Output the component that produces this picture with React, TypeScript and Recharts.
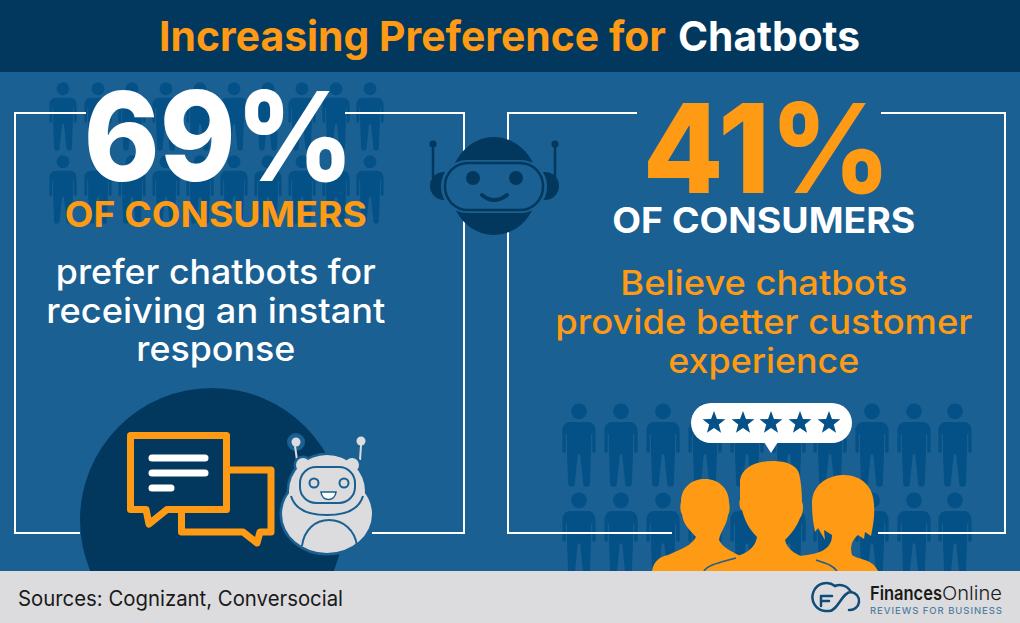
import { BarChart, Bar, XAxis, YAxis, LabelList } from 'recharts'

const panels = ['consumers-instant', 'consumers-experience']
const shares = [69, 41]
const headings = ['OF CONSUMERS', 'OF CONSUMERS']
const leftLines = ['prefer chatbots for', 'receiving an instant', 'response']
const rightLines = ['Believe chatbots', 'provide better customer', 'experience']
const descriptions = [leftLines, rightLines]

const rows = panels.map((panel, i) => ({ panel, share: shares[i] }))

const NAVY = '#03385e'
const BLUE = '#1a6092'
const SHADE = '#045187'
const ORANGE = '#ff9a14'
const GREY = '#dcdcde'
const FONT = 'Inter, "Open Sans", sans-serif'

const look = [
  {
    valueFill: '#ffffff', valueY: 181, valueW: 270, valueDx: 3, headFill: ORANGE, headY: 227, headW: 302,
    lineFill: '#ffffff', lineY: [284, 323, 361], lineW: [320, 339, 159],
  },
  {
    valueFill: ORANGE, valueY: 193, valueW: 248, valueDx: 3, headFill: '#ffffff', headY: 233, headW: 303,
    lineFill: ORANGE, lineY: [295, 334, 373], lineW: [287, 417, 191],
  },
]

function Words({ x, y, w, size, weight = 500, fill, anchor = 'start', children }: any) {
  return (
    <text x={x} y={y} textLength={w} lengthAdjust="spacingAndGlyphs" fontSize={size} fontWeight={weight}
      fill={fill} textAnchor={anchor} fontFamily={FONT}>
      {children}
    </text>
  )
}

function PanelLabel({ x, width, index }: any) {
  const l = look[index]
  const cx = x + width / 2
  return (
    <g>
      <Words x={cx + l.valueDx} y={l.valueY} w={l.valueW} size={124} weight={800} fill={l.valueFill} anchor="middle">{shares[index]}%</Words>
      <Words x={cx} y={l.headY} w={l.headW} size={35} weight={700} fill={l.headFill} anchor="middle">{headings[index]}</Words>
      {descriptions[index].map((line, i) => (
        <Words key={line} x={cx} y={l.lineY[i]} w={l.lineW[i]} size={34} weight={500} fill={l.lineFill} anchor="middle">{line}</Words>
      ))}
    </g>
  )
}

const LEG = 'M0 23H10C16 23 20 27 20 34V58A2 2 0 0 1 16 58V38H14.5V60L13 97A2.5 2.5 0 0 1 5 97L1.5 62H0Z'

function Person({ x, y, scale }: any) {
  return (
    <g transform={`translate(${x} ${y}) scale(${scale})`} fill={SHADE}>
      <circle cx={0} cy={10} r={9.5} />
      <path d={LEG} />
      <path d={LEG} transform="scale(-1 1)" />
    </g>
  )
}

const crowdLeftX = [63, 98, 132, 166, 200, 234, 268, 302, 336, 370]
const crowdLeftY = [82, 155]
const crowdRightX = [579, 621, 663, 705, 747, 789, 830, 872, 914, 955]
const crowdRightY = [403, 492]

function Star({ cx, cy }: any) {
  const pts = Array.from({ length: 10 }, (_, i) => {
    const r = i % 2 ? 5 : 12
    const a = -Math.PI / 2 + (i * Math.PI) / 5
    return `${cx + r * Math.cos(a)},${cy + r * Math.sin(a)}`
  }).join(' ')
  return <polygon points={pts} fill={SHADE} />
}

function Backdrop() {
  return (
    <g>
      <rect x={0} y={0} width={1020} height={623} fill={BLUE} />
      <rect x={0} y={0} width={1020} height={72} fill={NAVY} />
      {crowdLeftY.map((y) => crowdLeftX.map((x) => <Person key={`${x}-${y}`} x={x} y={y} scale={0.68} />))}
      {crowdRightY.map((y) => crowdRightX.map((x) => <Person key={`${x}-${y}`} x={x} y={y} scale={0.83} />))}

      <g stroke="#ffffff" strokeWidth={2} fill="none">
        <path d="M86 113H15V533H80M372 533H464V113H345" />
        <path d="M637 113H508V533H672M878 533H1005V113H881" />
      </g>

      <g>
        <line x1={433} y1={144} x2={433} y2={178} stroke={NAVY} strokeWidth={2.5} />
        <line x1={555} y1={144} x2={555} y2={178} stroke={NAVY} strokeWidth={2.5} />
        <circle cx={433} cy={144} r={3.6} fill={NAVY} />
        <circle cx={555} cy={144} r={3.6} fill={NAVY} />
        <circle cx={444} cy={186} r={14} fill={NAVY} />
        <circle cx={545} cy={186} r={14} fill={NAVY} />
        <ellipse cx={494} cy={186} rx={44} ry={49} fill={NAVY} />
        <rect x={441} y={160} width={106} height={53} rx={26} fill={BLUE} />
        <rect x={445} y={163} width={98} height={47} rx={23} fill={BLUE} stroke={NAVY} strokeWidth={2.5} />
        <circle cx={473} cy={178} r={7} fill={NAVY} />
        <circle cx={516} cy={178} r={7} fill={NAVY} />
        <path d="M482 195Q494 205 507 195" fill="none" stroke={NAVY} strokeWidth={4} strokeLinecap="round" />
      </g>

      <circle cx={212} cy={520} r={132} fill={NAVY} />
      <g fill={NAVY} stroke={ORANGE} strokeWidth={7} strokeLinejoin="round">
        <path d="M230 470H271V532H260L257 543L243 532H181.5V513" />
        <path d="M130.5 435.5H226.5V509.5H167L149 524L146 509.5H130.5Z" />
      </g>
      <g stroke="#ffffff" strokeWidth={7} strokeLinecap="round">
        <line x1={152} y1={458} x2={205} y2={458} />
        <line x1={152} y1={473} x2={205} y2={473} />
        <line x1={152} y1={488} x2={171} y2={488} />
      </g>

      <g stroke={BLUE} fill={GREY}>
        <circle cx={296} cy={442} r={9} fill={BLUE} stroke="none" />
        <circle cx={296} cy={442} r={4.5} stroke="none" />
        <circle cx={361} cy={441} r={4.5} stroke="none" />
        <path d="M295 446L297 460M361 445L360 460" strokeWidth={2} stroke={GREY} fill="none" />
        <circle cx={303} cy={465} r={7} strokeWidth={5} />
        <circle cx={352} cy={465} r={7} strokeWidth={5} />
        <ellipse cx={327} cy={491} rx={38} ry={36} strokeWidth={5} />
        <ellipse cx={327} cy={514} rx={45} ry={39} strokeWidth={5} />
        <circle cx={303} cy={465} r={7} stroke="none" />
        <circle cx={352} cy={465} r={7} stroke="none" />
        <ellipse cx={327} cy={491} rx={38} ry={36} stroke="none" />
        <ellipse cx={327} cy={514} rx={45} ry={39} stroke="none" />
        <path d="M291 496C295 510 310 515 327 515C345 515 359 510 363 496" strokeWidth={2} fill="none" />
        <rect x={300} y={467} width={55} height={36} rx={16} strokeWidth={2} fill="none" />
        <circle cx={314} cy={483} r={4.5} strokeWidth={2} fill="none" />
        <circle cx={344} cy={483} r={4.5} strokeWidth={2} fill="none" />
        <path d="M321 492H336C335 502 322 502 321 492Z" strokeWidth={1.6} fill="#ffffff" />
        <path d="M302 546C304 530 315 520 329 520C343 520 355 530 357 546" strokeWidth={2} fill="none" />
      </g>

      <rect x={691} y={403} width={161} height={40} rx={20} fill="#ffffff" />
      <polygon points="764,442 778,442 771,453" fill="#ffffff" />
      {[714, 743, 771, 800, 829].map((cx) => <Star key={cx} cx={cx} cy={423} />)}

      <g fill={ORANGE}>
        <path d="M652 571C654 560 660 557 668 555C682 549 692 545 696 537C690 530 683 525 682 514C680 512 680 505 681 502C681 487 692 479 705 479C719 479 729 489 729 502C730 507 730 512 728 515C727 525 720 532 719 540C722 547 732 552 745 558L745 571Z" />
        <path d="M812 503C812 486 826 476 842 475C860 474 874 486 874 505C875 515 873 526 871 536L865 532L864 539L858 535C851 541 850 548 852 555C858 560 872 558 878 571H800V556C815 554 832 552 832 535L824 530L825 540L818 528L815 532C813 522 812 513 812 503Z" />
        <path d="M703 571C706 566 712 563 725 560C745 555 755 549 757 537C750 530 745 522 742 510C739 510 739 498 740 500L740 480C742 468 755 461 772 461C787 461 799 465 800 478C802 490 802 500 802 502C804 505 803 515 800 518C797 527 790 535 785 540C787 550 797 556 815 561C828 564 835 566 838 571Z" />
      </g>
      <path d="M704 571C708 565 718 563 736 558M837 571C833 565 825 563 816 560" fill="none" stroke={BLUE} strokeWidth={1.6} />

      <rect x={0} y={571} width={1020} height={52} fill={GREY} />

      <text x={159} y={51} textLength={507} lengthAdjust="spacingAndGlyphs" fontSize={41} fontWeight={700} fill={ORANGE} fontFamily={FONT}>Increasing Preference for</text>
      <text x={678} y={51} textLength={182} lengthAdjust="spacingAndGlyphs" fontSize={41} fontWeight={700} fill="#ffffff" fontFamily={FONT}>Chatbots</text>
      <text x={18} y={606} textLength={325} lengthAdjust="spacingAndGlyphs" fontSize={21} fill="#1a1a1a" fontFamily={FONT}>Sources: Cognizant, Conversocial</text>

      <g fill="none" stroke="#0f4c7a" strokeWidth={2.5} strokeLinecap="round">
        <path d="M835 586A14 14 0 1 0 825 611H829C838 611 842 592 851 592A9 9 0 1 1 849 610" />
        <path d="M835 586C840 584 847 585 851 592" />
        <path d="M821 596H832M821 596V606M821 601H829" />
      </g>
      <text x={870} y={600} textLength={72} lengthAdjust="spacingAndGlyphs" fontSize={19} fontWeight={600} fill="#1a1a1a" fontFamily={FONT}>Finances</text>
      <text x={942} y={600} textLength={60} lengthAdjust="spacingAndGlyphs" fontSize={19} fontWeight={300} fill="#1a1a1a" fontFamily={FONT}>Online</text>
      <text x={870} y={614} textLength={132} lengthAdjust="spacing" fontSize={9.5} fontWeight={500} fill="#4f7fa3" fontFamily={FONT}>REVIEWS FOR BUSINESS</text>
    </g>
  )
}

export default function App() {
  return (
    <div style={{ position: 'absolute', left: 0, top: 0, width: 1020, height: 623 }}>
      <BarChart width={1020} height={623} data={rows} margin={{ top: 0, right: -18, bottom: 0, left: -58 }}>
        <Backdrop />
        <XAxis dataKey="panel" hide />
        <YAxis hide domain={[0, 100]} />
        <Bar dataKey="share" fill="none" isAnimationActive={false}>
          <LabelList dataKey="share" content={(p: any) => <PanelLabel {...p} />} />
        </Bar>
      </BarChart>
    </div>
  )
}
